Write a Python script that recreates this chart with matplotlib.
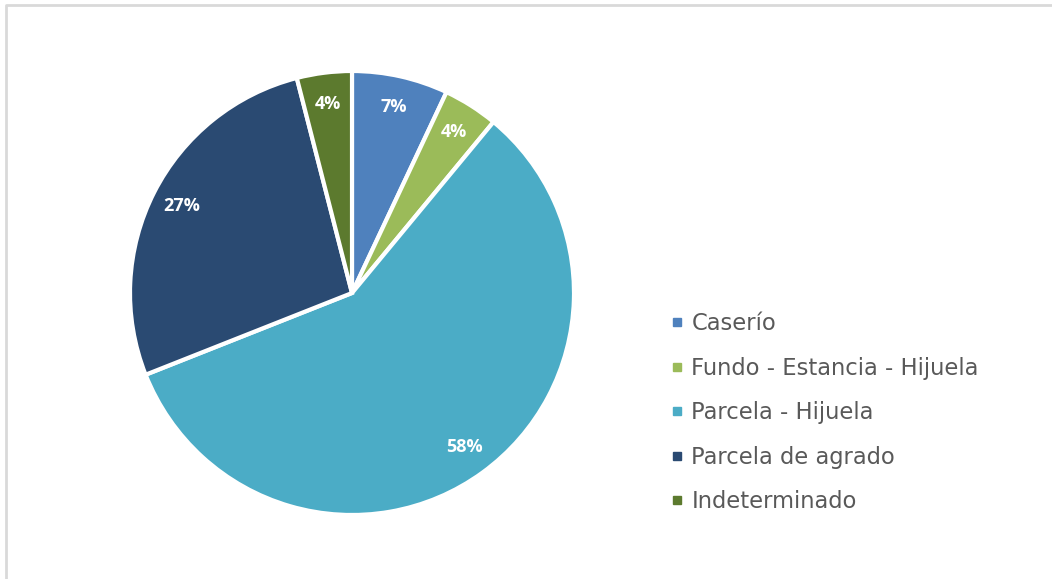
import matplotlib
matplotlib.use("Agg")
import matplotlib.pyplot as plt
from matplotlib.lines import Line2D

categories = ["Caserío", "Fundo - Estancia - Hijuela", "Parcela - Hijuela",
              "Parcela de agrado", "Indeterminado"]
values = [7, 4, 58, 27, 4]
colors = ["#4F81BD", "#9BBB59", "#4BACC6", "#2A4A72", "#5C7A2E"]

W, H = 1052, 579
fig = plt.figure(figsize=(W / 100, H / 100), dpi=100)
fig.patch.set_facecolor("white")

# light frame (top and left edges only are visible)
fig.add_artist(Line2D([6 / W, 6 / W, 1.0], [0.0, 1 - 4.5 / H, 1 - 4.5 / H],
                      transform=fig.transFigure, color="#D9D9D9",
                      linewidth=2))

cx, cy, r = 352, 293, 222
ax = fig.add_axes([(cx - r) / W, (H - cy - r) / H, 2 * r / W, 2 * r / H])
wedges, texts, autotexts = ax.pie(
    values, colors=colors, startangle=90, counterclock=False,
    autopct=lambda p: f"{p:.0f}%", pctdistance=0.86,
    wedgeprops=dict(edgecolor="white", linewidth=3),
    textprops=dict(color="white", fontsize=13, fontweight="bold",
                   family="Open Sans"))
ax.set_aspect("equal")
ax.set_xlim(-1, 1)
ax.set_ylim(-1, 1)

handles = [Line2D([], [], marker="s", linestyle="none", markersize=6,
                  markerfacecolor=c, markeredgecolor=c) for c in colors]
leg = fig.legend(handles, categories, loc="upper left",
                 bbox_to_anchor=(645 / W, 1 - 292 / H),
                 frameon=False, handletextpad=0.15, handlelength=1.0,
                 labelspacing=0.95,
                 prop=dict(family="DejaVu Sans", size=16.3))
for t in leg.get_texts():
    t.set_color("#595959")

fig.savefig("out.png", dpi=100, facecolor="white")
